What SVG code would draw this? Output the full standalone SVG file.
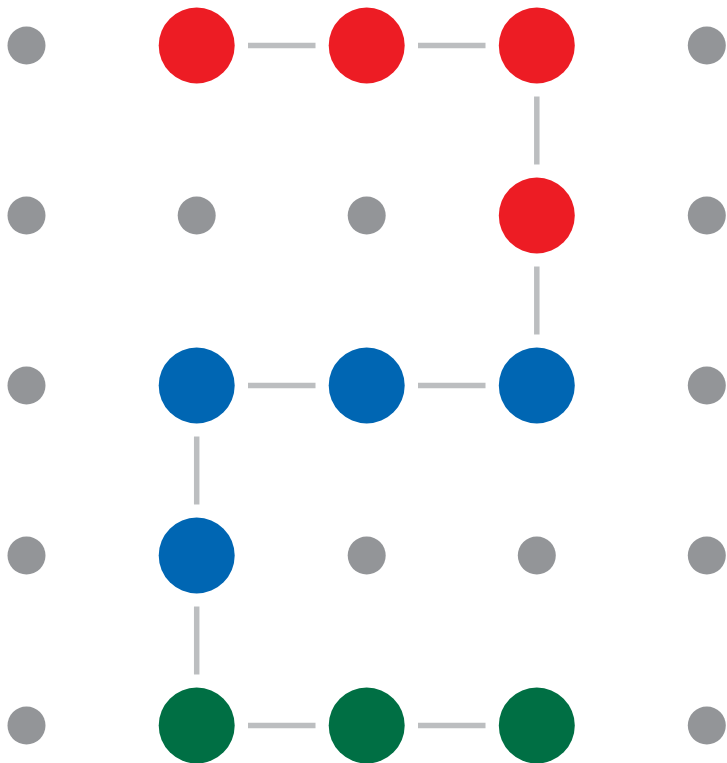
<svg xmlns="http://www.w3.org/2000/svg" width="727" height="763" viewBox="0 0 727 763">
<style>
.dot{fill:#939598}
.red{fill:#ED1C24}
.blue{fill:#0066B3}
.green{fill:#006F44}
.c{stroke:#BCBEC0;stroke-width:5.5;fill:none}
</style>
<rect width="727" height="763" fill="#fff"/>
<g id="connectors" class="c">
<line x1="248" y1="45.5" x2="315.5" y2="45.5"/>
<line x1="418" y1="45.5" x2="485.5" y2="45.5"/>
<line x1="536.8" y1="96.5" x2="536.8" y2="164.5"/>
<line x1="536.8" y1="266.5" x2="536.8" y2="334.5"/>
<line x1="248" y1="385.5" x2="315.5" y2="385.5"/>
<line x1="418" y1="385.5" x2="485.5" y2="385.5"/>
<line x1="196.7" y1="436.5" x2="196.7" y2="504.5"/>
<line x1="196.7" y1="606.5" x2="196.7" y2="674.5"/>
<line x1="248" y1="725.5" x2="315.5" y2="725.5"/>
<line x1="418" y1="725.5" x2="485.5" y2="725.5"/>
</g>
<g id="gray-dots">
<circle id="g00" class="dot" cx="26.5" cy="45.5" r="19"/>
<circle id="g01" class="dot" cx="26.5" cy="215.5" r="19"/>
<circle id="g02" class="dot" cx="26.5" cy="385.5" r="19"/>
<circle id="g03" class="dot" cx="26.5" cy="555.5" r="19"/>
<circle id="g04" class="dot" cx="26.5" cy="725.5" r="19"/>
<circle id="g40" class="dot" cx="706.8" cy="45.5" r="19"/>
<circle id="g41" class="dot" cx="706.8" cy="215.5" r="19"/>
<circle id="g42" class="dot" cx="706.8" cy="385.5" r="19"/>
<circle id="g43" class="dot" cx="706.8" cy="555.5" r="19"/>
<circle id="g44" class="dot" cx="706.8" cy="725.5" r="19"/>
<circle id="g11" class="dot" cx="196.7" cy="215.5" r="19"/>
<circle id="g21" class="dot" cx="366.7" cy="215.5" r="19"/>
<circle id="g23" class="dot" cx="366.7" cy="555.5" r="19"/>
<circle id="g33" class="dot" cx="536.8" cy="555.5" r="19"/>
</g>
<g id="r1"><circle class="red" cx="196.7" cy="45.5" r="38"/></g>
<g id="r2"><circle class="red" cx="366.7" cy="45.5" r="38"/></g>
<g id="r3"><circle class="red" cx="536.8" cy="45.5" r="38"/></g>
<g id="r4"><circle class="red" cx="536.8" cy="215.5" r="38"/></g>
<g id="b1"><circle class="blue" cx="536.8" cy="385.5" r="38"/></g>
<g id="b2"><circle class="blue" cx="366.7" cy="385.5" r="38"/></g>
<g id="b3"><circle class="blue" cx="196.7" cy="385.5" r="38"/></g>
<g id="b4"><circle class="blue" cx="196.7" cy="555.5" r="38"/></g>
<g id="gr1"><circle class="green" cx="196.7" cy="725.5" r="38"/></g>
<g id="gr2"><circle class="green" cx="366.7" cy="725.5" r="38"/></g>
<g id="gr3"><circle class="green" cx="536.8" cy="725.5" r="38"/></g>
</svg>
